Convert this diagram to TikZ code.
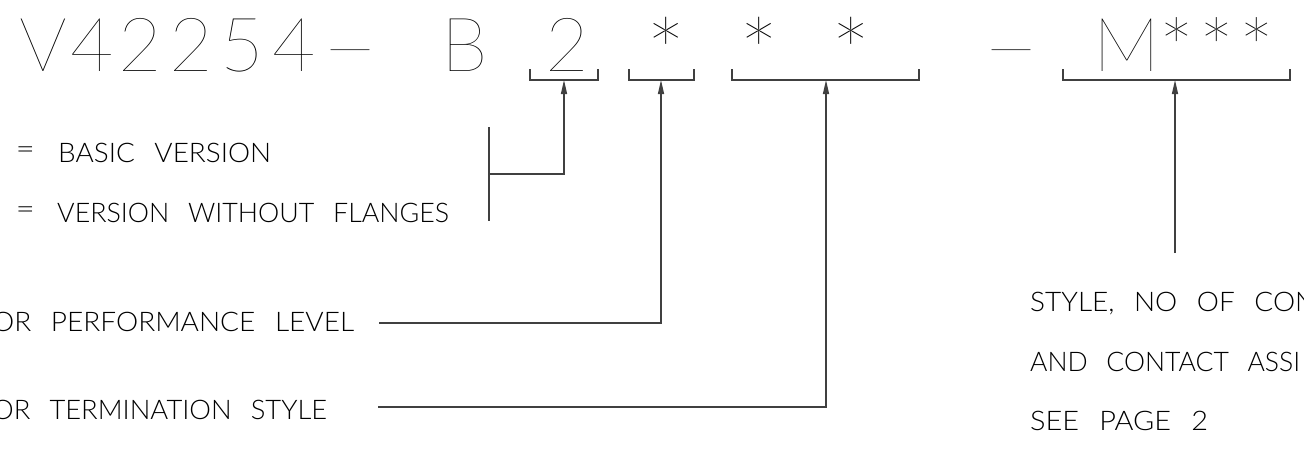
\documentclass[tikz,border=0pt]{standalone}
\usepackage{fontspec}
\usepackage{graphicx}
\usetikzlibrary{arrows.meta}
\IfFontExistsTF{Lato Thin}{\newfontfamily\bigf{Lato Thin}}{%
 \IfFontExistsTF{Lato Hairline}{\newfontfamily\bigf{Lato Hairline}}{%
  \IfFontExistsTF{DejaVu Sans ExtraLight}{\newfontfamily\bigf{DejaVu Sans ExtraLight}}{%
   \newfontfamily\bigf{Liberation Sans}}}}
\IfFontExistsTF{Lato Light}{\newfontfamily\smf{Lato Light}}{%
 \IfFontExistsTF{DejaVu Sans ExtraLight}{\newfontfamily\smf{DejaVu Sans ExtraLight}}{%
  \newfontfamily\smf{Liberation Sans}}}
\newsavebox\fitbox
\newdimen\fitd
\newcommand\fitw[2]{\sbox\fitbox{#2}\fitd=\wd\fitbox\pgfmathsetmacro\fitr{#1/\fitd}\global\let\lastr\fitr\scalebox{\fitr}[1]{\usebox\fitbox}}
\newcommand\wsp{\hspace{0.7em}}
\tikzset{
  bigt/.style={inner sep=0pt, font=\bigf\fontsize{75}{78}\selectfont, anchor=base},
  bigstar/.style={inner sep=0pt, font=\bigf\fontsize{75}{78}\selectfont, anchor=north},
  smt/.style={inner sep=0pt, font=\smf\fontsize{27}{30}\selectfont, anchor=base west},
  ln/.style={line width=1.3pt, draw=black!75, line cap=butt},
  arr/.style={ln, -{Triangle[length=14pt,width=6pt]}},
}
\begin{document}
\begin{tikzpicture}[x=1pt,y=-1pt]
\useasboundingbox (0,0) rectangle (1304,450);
\fill[white] (0,0) rectangle (1304,450);
\clip (0,0) rectangle (1304,450);
% code line
\node[bigt] (cV)  at (43,71)    {V};
\node[bigt] (c4a) at (92.5,71)  {4};
\node[bigt] (c2a) at (140.5,71) {2};
\node[bigt] (c2b) at (191,71)   {2};
\node[bigt] (c5)  at (242.5,71) {5};
\node[bigt] (c4b) at (294,71)   {4};
\node[bigt] (d1) at (350.5,71) {\fitw{48}{—}};
\node[bigt] (cB)  at (465,71)   {B};
\node[bigt] (c2c) at (567.5,71) {2};
\node[bigstar] (s1) at (666,17)   {\scalebox{1.3}{*}};
\node[bigstar] (s2) at (759.5,17) {\scalebox{1.3}{*}};
\node[bigstar] (s3) at (851.5,17) {\scalebox{1.3}{*}};
\node[bigt] (d2) at (1011,71) {\fitw{48}{—}};
\node[bigt] (cM)  at (1127,71)  {M};
\node[bigstar] (s4) at (1177,17) {\scalebox{1.15}{*}};
\node[bigstar] (s5) at (1217,17) {\scalebox{1.15}{*}};
\node[bigstar] (s6) at (1257,17) {\scalebox{1.15}{*}};
% brackets
\draw[ln] (530,69) -- (530,80) -- (598,80) -- (598,69);
\draw[ln] (629,69) -- (629,80) -- (694,80) -- (694,69);
\draw[ln] (732,69) -- (732,80) -- (919,80) -- (919,69);
\draw[ln] (1063,69) -- (1063,80) -- (1290,80) -- (1290,69);
\coordinate (k1) at (564,80);
\coordinate (k2) at (661,80);
\coordinate (k3) at (826,80);
\coordinate (k4) at (1175,80);
% left texts
\node[smt,anchor=center] (eq1) at (25.5,153) {\fitw{19}{=}};
\node[smt] (t1) at (58,162) {\fitw{213}{BASIC\wsp VERSION}};
\node[smt,anchor=center] (eq2) at (25.5,213) {\fitw{19}{=}};
\node[smt] (t2) at (57,222) {\fitw{392}{VERSION\wsp WITHOUT\wsp FLANGES}};
\node[smt] (t3) at (-8,331) {\fitw{362}{OR\wsp PERFORMANCE\wsp LEVEL}};
\node[smt] (t4) at (-8,419) {\fitw{335}{OR\wsp TERMINATION\wsp STYLE}};
% right texts
\node[smt] (t5) at (1030,311) {\fitw{286}{STYLE,\wsp NO\wsp OF\wsp CON}};
\node[smt] (t6) at (1030,371) {\fitw{270}{AND\wsp CONTACT\wsp ASSI}};
\node[smt] (t7) at (1030,430) {\fitw{178}{SEE\wsp PAGE\wsp 2}};
% connectors
\coordinate (vt) at (489,127);
\coordinate (vb) at (489,221);
\coordinate (j1) at (489,174);
\coordinate (p1) at (379,323);
\coordinate (p2) at (378,407);
\coordinate (p3) at (1175,253);
\draw[ln] (vt) -- (vb);
\draw[arr] (j1) -| (k1);
\draw[arr] (p1) -| (k2);
\draw[arr] (p2) -| (k3);
\draw[arr] (p3) -- (k4);
\end{tikzpicture}
\end{document}
